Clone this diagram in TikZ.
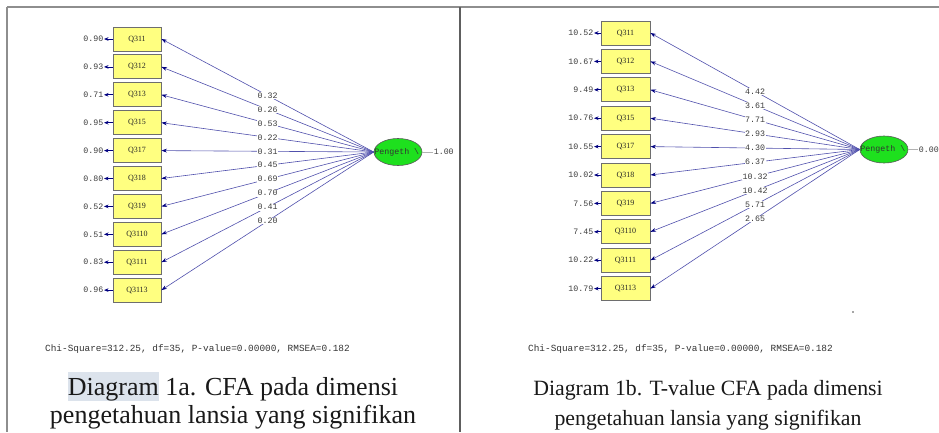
\documentclass[tikz,border=0pt]{standalone}
\usepackage{fontspec}
\setmainfont{Liberation Serif}
\setmonofont{Liberation Mono}
\usetikzlibrary{arrows.meta,shapes.geometric}
\definecolor{boxfill}{HTML}{FFFF80}
\definecolor{boxline}{HTML}{6E6E6E}
\definecolor{factfill}{HTML}{1EE01E}
\definecolor{pathblue}{HTML}{5050AC}
\definecolor{tipblue}{HTML}{000080}
\definecolor{txtgrey}{HTML}{3C3C3C}
\definecolor{framegrey}{HTML}{8E8E8E}
\definecolor{divgrey}{HTML}{5E5E5E}
\definecolor{hl}{HTML}{DCE3EC}
\begin{document}
\begin{tikzpicture}[x=1pt,y=-1pt,
  item/.style={draw=boxline, line width=0.9pt, fill=boxfill, minimum width=48pt,
    minimum height=24pt, inner sep=0pt, text=black!85,
    font=\fontsize{8}{9}\selectfont},
  factor/.style={ellipse, draw=black!65, line width=0.6pt, fill=factfill,
    minimum width=48pt, minimum height=27pt, inner sep=0pt},
  factlbl/.style={anchor=west, inner sep=0.5pt, text=black!80,
    font=\ttfamily\fontsize{8.3}{9}\selectfont},
  lbl/.style={fill=white, inner sep=0.6pt, text=txtgrey,
    font=\ttfamily\fontsize{8.3}{9}\selectfont},
  errlbl/.style={anchor=east, inner sep=0.5pt, text=txtgrey,
    font=\ttfamily\fontsize{8.3}{9}\selectfont},
  load/.style={draw=pathblue, line width=0.6pt,
    -{Stealth[length=5.5pt,width=3.8pt,color=tipblue]}},
  errarr/.style={draw=tipblue, line width=0.8pt,
    -{Stealth[length=4.5pt,width=3.6pt,color=tipblue]}},
  varline/.style={draw=black!30, line width=0.8pt},
  fit/.style={anchor=base west, inner sep=0pt, text=black!80,
    font=\ttfamily\fontsize{9.4}{10}\selectfont},
  caption/.style={anchor=base, inner sep=0pt, text=black!90}
]
\useasboundingbox (0,0) rectangle (939,432);

% panel frame
\draw[framegrey, line width=2.4pt] (7,7) -- (939,7);
\draw[framegrey, line width=2pt] (7,7) -- (7,432);
\draw[divgrey, line width=2pt] (460,7) -- (460,432);

% ---------- left panel: standardized solution ----------
\node[factor] (fa) at (398,152) {};
\node[factlbl] (fat) at (fa.west) {Pengeth \textbackslash};
\node[lbl, anchor=west, fill=none] (fav) at (433,152) {1.00};
\draw[varline] (fa.east) -- (fav.west);

\foreach \q/\e/\l [count=\i from 0] in
  {311/0.90/0.32, 312/0.93/0.26, 313/0.71/0.53, 315/0.95/0.22, 317/0.90/0.31,
   318/0.80/0.45, 319/0.52/0.69, 3110/0.51/0.70, 3111/0.83/0.41, 3113/0.96/0.20} {
  \node[item] (a\i) at (137,{39+27.9*\i}) {Q\q};
  \node[errlbl] (ae\i) at (104,{39+27.9*\i}) {\e};
  \draw[errarr] (a\i.west) -- (ae\i.east);
}
\foreach \q/\e/\l [count=\i from 0] in
  {311/0.90/0.32, 312/0.93/0.26, 313/0.71/0.53, 315/0.95/0.22, 317/0.90/0.31,
   318/0.80/0.45, 319/0.52/0.69, 3110/0.51/0.70, 3111/0.83/0.41, 3113/0.96/0.20} {
  \draw[load] (fa.west) -- node[lbl, pos=0.5] {\l} (a\i.east);
}

\node[fit] (fita) at (45,351) {Chi-Square=312.25, df=35, P-value=0.00000, RMSEA=0.182};
\node[caption, font=\fontsize{26}{28}\selectfont] (capa1) at (233,395)
  {{\setlength{\fboxsep}{0pt}\colorbox{hl}{\rule[-0.22em]{0pt}{1.1em}Diagram}} 1a. CFA pada dimensi};
\node[caption, font=\fontsize{26}{28}\selectfont] (capa2) at (233,423)
  {pengetahuan lansia yang signifikan};

% ---------- right panel: t-values ----------
\node[factor] (fb) at (884,149.5) {};
\node[factlbl] (fbt) at (fb.west) {Pengeth \textbackslash};
\node[lbl, anchor=west, fill=none] (fbv) at (918,149.5) {0.00};
\draw[varline] (fb.east) -- (fbv.west);

\foreach \q/\e/\l [count=\i from 0] in
  {311/10.52/4.42, 312/10.67/3.61, 313/9.49/7.71, 315/10.76/2.93, 317/10.55/4.30,
   318/10.02/6.37, 319/7.56/10.32, 3110/7.45/10.42, 3111/10.22/5.71, 3113/10.79/2.65} {
  \node[item, minimum width=49pt] (b\i) at (625.5,{33+28.4*\i}) {Q\q};
  \node[errlbl] (be\i) at (594,{33+28.4*\i}) {\e};
  \draw[errarr] (b\i.west) -- (be\i.east);
}
\foreach \q/\e/\l [count=\i from 0] in
  {311/10.52/4.42, 312/10.67/3.61, 313/9.49/7.71, 315/10.76/2.93, 317/10.55/4.30,
   318/10.02/6.37, 319/7.56/10.32, 3110/7.45/10.42, 3111/10.22/5.71, 3113/10.79/2.65} {
  \draw[load] (fb.west) -- node[lbl, pos=0.5] {\l} (b\i.east);
}

\fill[black!35] (852,311) rectangle (854,313);

\node[fit] (fitb) at (528,351) {Chi-Square=312.25, df=35, P-value=0.00000, RMSEA=0.182};
\node[caption, font=\fontsize{21.8}{26}\selectfont] (capb1) at (708,395)
  {Diagram 1b. T-value CFA pada dimensi};
\node[caption, font=\fontsize{21.8}{26}\selectfont] (capb2) at (708,425)
  {pengetahuan lansia yang signifikan};
\end{tikzpicture}
\end{document}
